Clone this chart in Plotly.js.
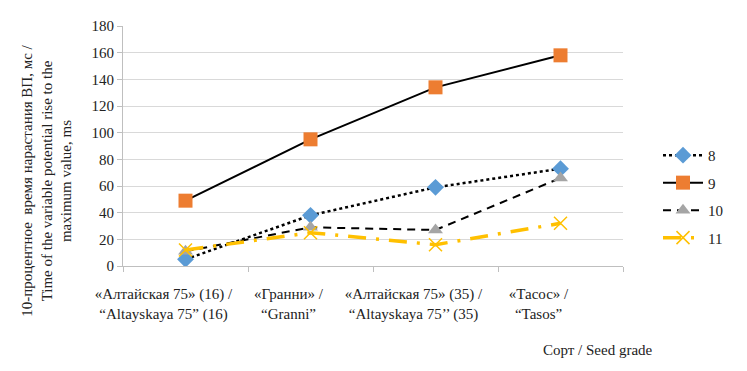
<!DOCTYPE html>
<html>
<head>
<meta charset="utf-8">
<script src="https://cdn.plot.ly/plotly-3.0.1.min.js"></script>
<style>
html,body{margin:0;padding:0;background:#fff;}
#chart{width:747px;height:371px;}
</style>
</head>
<body>
<div id="chart"></div>
<script>
const categories = [
  "«Алтайская 75» (16) /<br>“Altayskaya 75” (16)",
  "«Гранни» /<br>“Granni”",
  "«Алтайская 75» (35) /<br>“Altayskaya 75’’ (35)",
  "«Тасос» /<br>“Tasos”"
];
const seriesNames = ["8", "9", "10", "11"];
const s8 = [5, 38, 59, 73];
const s9 = [49, 95, 134, 158];
const s10 = [11, 29, 27, 66];
const s11 = [12, 25, 16, 32];
const yTitle = "10-процентное  время нарастания ВП, мс /<br>Time of the variable potential rise to the<br>maximum value, ms";
const xTitle = "Сорт / Seed grade";

const FONT = "Liberation Serif";

const traces = [
  {y: s8, name: seriesNames[0], line: {color: "#000", width: 2.5, dash: "dot"},
   marker: {symbol: "diamond", color: "#5b9bd5", size: 13}},
  {y: s9, name: seriesNames[1], line: {color: "#000", width: 2},
   marker: {symbol: "square", color: "#ed7d31", size: 14}},
  {y: s10, name: seriesNames[2], line: {color: "#000", width: 2, dash: "8px,6px"},
   marker: {symbol: "triangle-up", color: "#a5a5a5", size: 13}},
  {y: s11, name: seriesNames[3], line: {color: "#ffc000", width: 3.5, dash: "18px,10px,3px,10px"},
   marker: {symbol: "x-thin", color: "#ffc000", size: 13, line: {color: "#ffc000", width: 1.5}}}
].map((t, i) => Object.assign({
  type: "scatter", mode: "lines+markers", x: categories, legendgroup: "g" + i
}, t));

const layout = {
  width: 747, height: 371,
  margin: {l: 123, r: 124, t: 26, b: 105},
  paper_bgcolor: "#fff", plot_bgcolor: "#fff",
  font: {family: FONT, size: 15, color: "#222"},
  showlegend: true,
  legend: {x: 1.07, xanchor: "left", y: 0.29, yanchor: "middle", itemwidth: 40,
           font: {family: FONT, size: 15, color: "#222"},
           traceorder: "grouped", tracegroupgap: 5, bgcolor: "rgba(0,0,0,0)"},
  xaxis: {type: "category", tickson: "boundaries", ticks: "outside", ticklen: 5,
          tickcolor: "#bfbfbf", showline: true, linecolor: "#bfbfbf", linewidth: 1,
          showgrid: false, tickfont: {family: FONT, size: 15, color: "#222"},
          tickangle: 0, ticklabelshift: -22, ticklabelstandoff: 14,
          range: [-0.5, 3.5], fixedrange: true},
  yaxis: {range: [0, 180], dtick: 20, ticks: "outside", ticklen: 5, tickcolor: "#bfbfbf",
          showline: true, linecolor: "#bfbfbf", linewidth: 1,
          gridcolor: "#d9d9d9", gridwidth: 1, zeroline: false,
          tickfont: {family: FONT, size: 15, color: "#222"}},
  annotations: [
    {text: yTitle, xref: "paper", yref: "paper", x: -0.152, y: 0.355, xanchor: "center", yanchor: "middle",
     textangle: -90, showarrow: false, font: {family: FONT, size: 15, color: "#222"}},
    {text: xTitle, xref: "paper", yref: "paper", x: 1.064, y: -0.35, xanchor: "right", yanchor: "middle",
     showarrow: false, font: {family: FONT, size: 15, color: "#222"}}
  ]
};

Plotly.newPlot("chart", traces, layout, {displayModeBar: false, staticPlot: true});
</script>
</body>
</html>
